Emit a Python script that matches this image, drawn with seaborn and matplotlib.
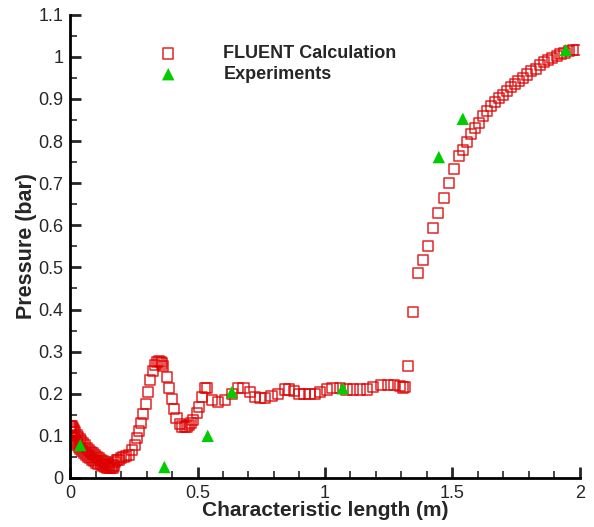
import numpy as np
import pandas as pd
import seaborn as sns
import matplotlib.pyplot as plt
from matplotlib.ticker import MultipleLocator, FormatStrFormatter

# FLUENT calculation
# dip near the inlet, upper and lower strand of the band
dip_upper_x = [0.000, 0.004, 0.008, 0.012, 0.016, 0.020, 0.026, 0.032, 0.038, 0.044,
               0.050, 0.058, 0.066, 0.074, 0.082, 0.090, 0.098, 0.106, 0.114, 0.122,
               0.130, 0.138, 0.146, 0.154, 0.162, 0.170]
dip_upper_y = [0.122, 0.124, 0.122, 0.118, 0.113, 0.108, 0.102, 0.097, 0.092, 0.087,
               0.082, 0.077, 0.072, 0.067, 0.062, 0.058, 0.054, 0.050, 0.046, 0.043,
               0.040, 0.037, 0.034, 0.032, 0.030, 0.029]
dip_lower_x = [0.002, 0.006, 0.010, 0.016, 0.022, 0.028, 0.034, 0.040, 0.048, 0.056,
               0.064, 0.072, 0.080, 0.088, 0.096, 0.104, 0.112, 0.120, 0.128, 0.136,
               0.144, 0.152, 0.160, 0.168]
dip_lower_y = [0.108, 0.100, 0.094, 0.088, 0.083, 0.078, 0.073, 0.069, 0.064, 0.059,
               0.055, 0.051, 0.047, 0.043, 0.040, 0.037, 0.034, 0.031, 0.029, 0.027,
               0.025, 0.024, 0.023, 0.023]
# oscillation: rise to the peak, fall and recovery
wave_x = [0.176, 0.183, 0.190, 0.200, 0.210, 0.220, 0.230, 0.243, 0.255, 0.262,
          0.270, 0.278, 0.287, 0.297, 0.305, 0.314, 0.325, 0.333, 0.341, 0.348,
          0.356, 0.360, 0.365, 0.380, 0.388, 0.400, 0.408, 0.418, 0.430, 0.440,
          0.450, 0.458, 0.467, 0.475, 0.483, 0.498, 0.506, 0.517, 0.530, 0.538]
wave_y = [0.038, 0.042, 0.043, 0.047, 0.050, 0.052, 0.055, 0.067, 0.078, 0.095,
          0.112, 0.130, 0.152, 0.176, 0.204, 0.232, 0.254, 0.268, 0.275, 0.278,
          0.275, 0.272, 0.266, 0.240, 0.214, 0.188, 0.164, 0.143, 0.128, 0.122,
          0.121, 0.122, 0.126, 0.131, 0.138, 0.154, 0.169, 0.192, 0.214, 0.214]
# plateau
plateau_x = [0.556, 0.580, 0.608, 0.635, 0.660, 0.680, 0.705, 0.725, 0.745, 0.765,
             0.790, 0.815, 0.843, 0.860, 0.880, 0.900, 0.920, 0.940, 0.960, 0.980,
             1.007, 1.030, 1.060, 1.085, 1.110, 1.137, 1.165, 1.190, 1.220, 1.247,
             1.270, 1.294, 1.306, 1.314]
plateau_y = [0.185, 0.180, 0.185, 0.200, 0.213, 0.213, 0.205, 0.193, 0.190, 0.190,
             0.195, 0.200, 0.210, 0.210, 0.207, 0.200, 0.200, 0.200, 0.200, 0.205,
             0.210, 0.213, 0.213, 0.210, 0.210, 0.210, 0.210, 0.216, 0.220, 0.220,
             0.220, 0.218, 0.215, 0.216]
# recompression towards the outlet
rise_x = [1.325, 1.345, 1.365, 1.384, 1.404, 1.424, 1.443, 1.467, 1.486, 1.506,
          1.525, 1.541, 1.557, 1.573, 1.588, 1.604, 1.620, 1.635, 1.651, 1.667,
          1.682, 1.698, 1.714, 1.730, 1.745, 1.760, 1.776, 1.792, 1.810, 1.827,
          1.843, 1.860, 1.875, 1.890, 1.910, 1.925, 1.940, 1.957, 1.973, 1.990]
rise_y = [0.266, 0.394, 0.487, 0.518, 0.551, 0.593, 0.629, 0.665, 0.700, 0.734,
          0.765, 0.779, 0.798, 0.817, 0.831, 0.843, 0.860, 0.872, 0.884, 0.893,
          0.902, 0.910, 0.919, 0.929, 0.936, 0.943, 0.950, 0.958, 0.967, 0.971,
          0.980, 0.987, 0.992, 0.997, 1.002, 1.006, 1.010, 1.014, 1.016, 1.016]

# Experiments
exp_x = [0.040, 0.370, 0.540, 0.635, 1.070, 1.447, 1.541, 1.945]
exp_y = [0.078, 0.026, 0.100, 0.204, 0.213, 0.762, 0.853, 1.016]

fluent = pd.DataFrame({
    'x': dip_upper_x + dip_lower_x + wave_x + plateau_x + rise_x,
    'y': dip_upper_y + dip_lower_y + wave_y + plateau_y + rise_y,
})
exp = pd.DataFrame({'x': exp_x, 'y': exp_y})

sns.set_style('ticks')
plt.rcParams['font.family'] = ['Liberation Sans', 'DejaVu Sans']

fig = plt.figure(figsize=(5.94, 5.27), dpi=100)
ax = fig.add_axes([0.118, 0.093, 0.858, 0.879])

sns.scatterplot(data=fluent, x='x', y='y', ax=ax, marker='s', s=55,
                facecolors='none', edgecolor='#dd0000', linewidth=1.1,
                alpha=0.85, label='FLUENT Calculation', zorder=2)
sns.scatterplot(data=exp, x='x', y='y', ax=ax, marker='^', s=80,
                color='#00cc00', edgecolor='none', label='Experiments', zorder=3)

ax.set_xlim(0, 2)
ax.set_ylim(0, 1.1)
ax.xaxis.set_major_locator(MultipleLocator(0.5))
ax.xaxis.set_minor_locator(MultipleLocator(0.1))
ax.yaxis.set_major_locator(MultipleLocator(0.1))
ax.yaxis.set_minor_locator(MultipleLocator(0.05))
ax.xaxis.set_major_formatter(FormatStrFormatter('%g'))
ax.yaxis.set_major_formatter(FormatStrFormatter('%g'))
ax.tick_params(which='major', direction='in', length=8, width=2, labelsize=13, pad=5)
ax.tick_params(which='minor', direction='in', length=5, width=1.2)

sns.despine(ax=ax)
for side in ['left', 'bottom']:
    ax.spines[side].set_linewidth(2)
    ax.spines[side].set_color('black')

ax.set_xlabel('Characteristic length (m)', fontsize=15, fontweight='bold', labelpad=-1)
ax.set_ylabel('Pressure (bar)', fontsize=15.5, fontweight='bold', labelpad=1)

ax.legend(loc='upper left', bbox_to_anchor=(0.268, 0.914), bbox_transform=fig.transFigure,
          frameon=False, borderpad=0, borderaxespad=0, handlelength=1,
          handletextpad=2.55, labelspacing=0.2, prop={'weight': 'bold', 'size': 13})

fig.savefig('out.png', dpi=100)
